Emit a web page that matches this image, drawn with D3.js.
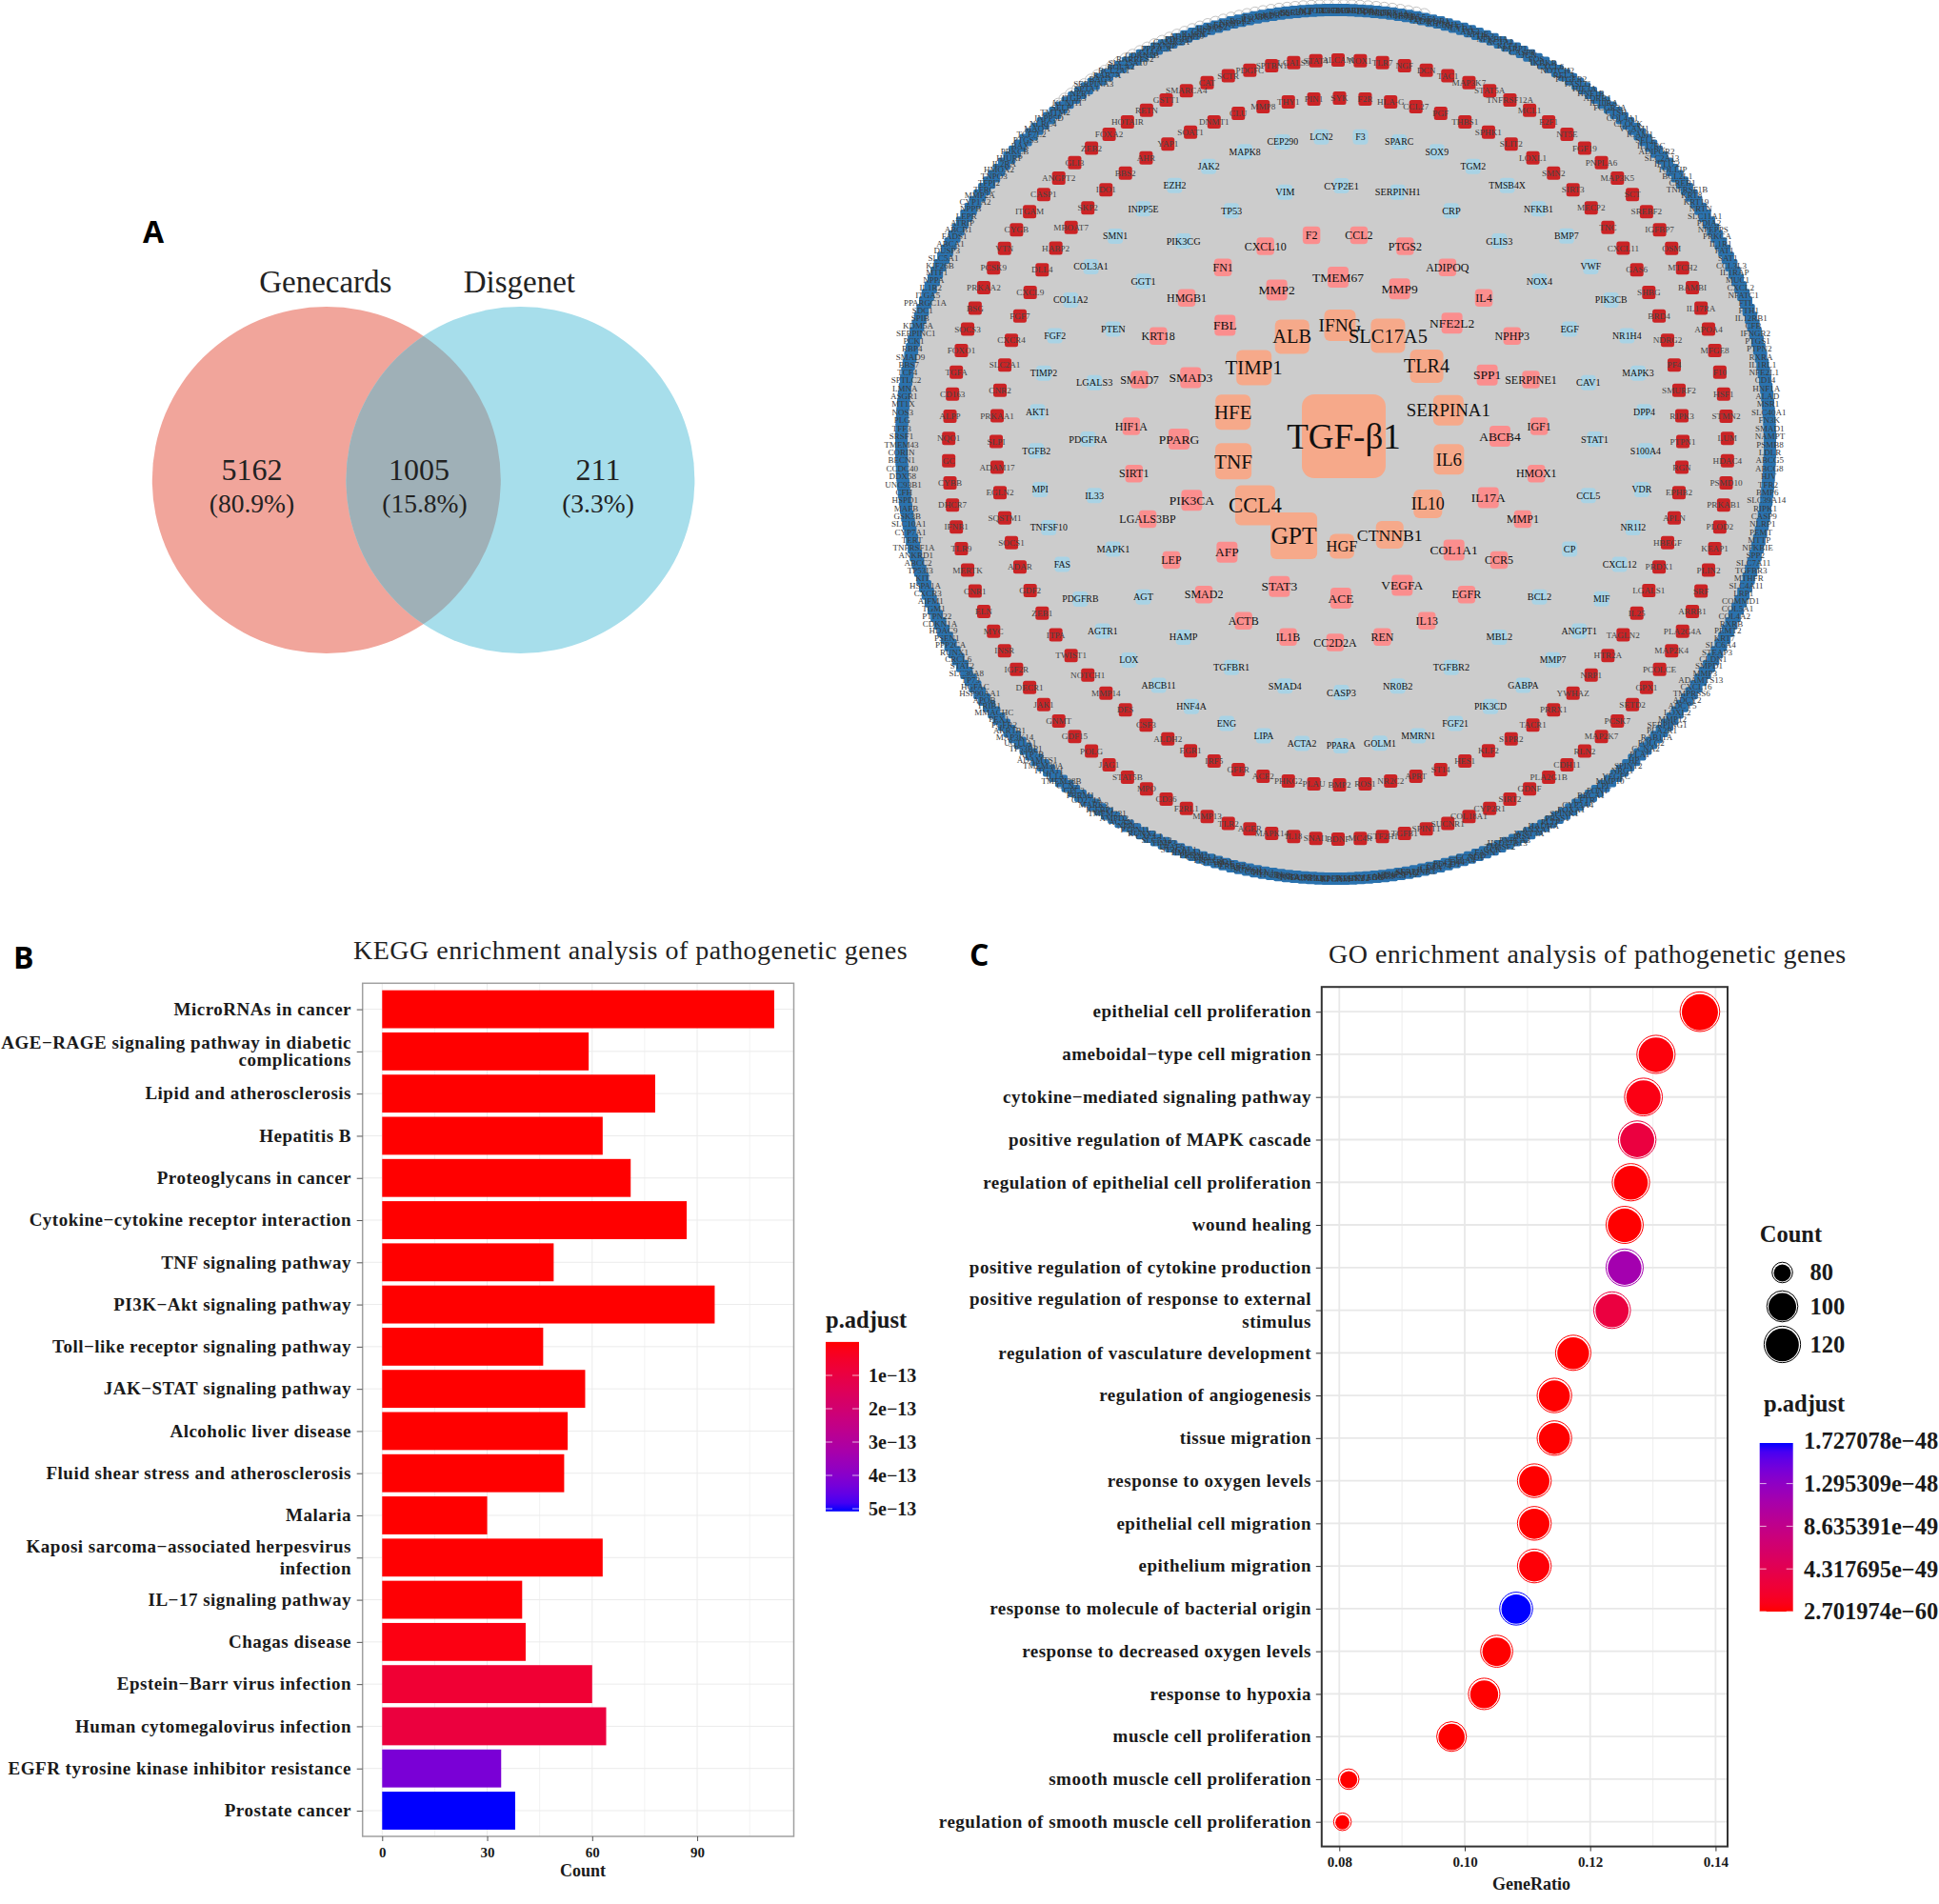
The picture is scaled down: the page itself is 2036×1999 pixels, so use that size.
<!DOCTYPE html>
<html>
<head>
<meta charset="utf-8">
<style>
	body {margin: 0; background: #fff;}
	text {font-family: "Liberation Serif", serif;}
</style>
<script src="https://cdn.jsdelivr.net/npm/d3@7"></script>
</head>
<body>
<script>
// panel A
var vennSets = ["Genecards", "Disgenet"];
var vennCounts = ["5162", "1005", "211"];
var vennPercents = ["(80.9%)", "(15.8%)", "(3.3%)"];

// network rings, clockwise from the top
var hubGene = "TGF-β1";
var orangeGenes = ["IFNG", "SLC17A5", "TLR4", "SERPINA1", "IL6", "IL10", "CTNNB1", "HGF", "GPT", "CCL4", "TNF", "HFE", "TIMP1", "ALB"];
var orangeDegree = [33, 36, 35, 32, 32, 30, 29, 26, 49, 42, 38, 37, 37, 36];
var pinkInnerGenes = ["TMEM67", "MMP9", "NFE2L2", "SPP1", "ABCB4", "IL17A", "COL1A1", "VEGFA", "ACE", "STAT3", "AFP", "PIK3CA", "PPARG", "SMAD3", "FBL", "MMP2"];
var pinkOuterGenes = ["CCL2", "PTGS2", "ADIPOQ", "IL4", "NPHP3", "SERPINE1", "IGF1", "HMOX1", "MMP1", "CCR5", "EGFR", "IL13", "REN", "CC2D2A", "IL1B", "ACTB", "SMAD2", "LEP", "LGALS3BP", "SIRT1", "HIF1A", "SMAD7", "KRT18", "HMGB1", "FN1", "CXCL10", "F2"];
var blueInnerGenes = ["CYP2E1", "SERPINH1", "CRP", "GLIS3", "NOX4", "EGF", "CAV1", "STAT1", "CCL5", "CP", "BCL2", "MBL2", "TGFBR2", "NR0B2", "CASP3", "SMAD4", "TGFBR1", "HAMP", "AGT", "MAPK1", "IL33", "PDGFRA", "LGALS3", "PTEN", "GGT1", "PIK3CG", "TP53", "VIM"];
var blueOuterGenes = ["F3", "SPARC", "SOX9", "TGM2", "TMSB4X", "NFKB1", "BMP7", "VWF", "PIK3CB", "NR1H4", "MAPK3", "DPP4", "S100A4", "VDR", "NR1I2", "CXCL12", "MIF", "ANGPT1", "MMP7", "GABPA", "PIK3CD", "FGF21", "MMRN1", "GOLM1", "PPARA", "ACTA2", "LIPA", "ENG", "HNF4A", "ABCB11", "LOX", "AGTR1", "PDGFRB", "FAS", "TNFSF10", "MPI", "TGFB2", "AKT1", "TIMP2", "FGF2", "COL1A2", "COL3A1", "SMN1", "INPP5E", "EZH2", "JAK2", "MAPK8", "CEP290", "LCN2"];
var redInnerGenes = ["SYK", "F2R", "HLA-G", "CCL27", "PGF", "THBS1", "SPHK1", "SLIT2", "LOXL1", "SMN2", "SIRT3", "MECP2", "TNC", "CXCL11", "GAS6", "SHBG", "BRD4", "NDRG2", "PF4", "SMURF2", "RIPK3", "PTPN1", "RGN", "EPHB2", "APLN", "HBEGF", "PRDX1", "LGALS1", "IL25", "TAGLN2", "HTR2A", "NRP1", "YWHAZ", "PRRX1", "TACR1", "S1PR2", "KLF2", "HES1", "ST14", "APRT", "NR2C2", "ROS1", "BMP2", "PLAU", "PHKG2", "ACE2", "GFER", "IRF5", "EGR1", "ALDH2", "CSF3", "DES", "MMP14", "NOTCH1", "TWIST1", "ITPA", "ZEB1", "GDF2", "ADAR", "SOCS1", "SQSTM1", "EGLN2", "ADAM17", "SLPI", "PRKAA1", "CNR2", "SLC2A1", "CXCR4", "FGF7", "CXCL9", "DLL4", "HABP2", "MBOAT7", "SKP2", "IDO1", "BBS2", "AHR", "YAP1", "SOAT1", "DNMT1", "CLU", "MMP8", "THY1", "PIN1"];
var redOuterGenes = ["ALCAM", "NOX1", "TLR7", "NGF", "DCN", "TAC1", "MAP3K7", "STAT5A", "TNFRSF12A", "MCL1", "E2F1", "NT5E", "FGF19", "PNPLA6", "MAP3K5", "SCT", "SREBF2", "IGFBP7", "OSM", "MTCH2", "BAMBI", "IL17RA", "APOA4", "MFGE8", "F10", "HSF1", "STMN2", "LUM", "HDAC4", "PSMD10", "PRKAB1", "PLOD2", "KEAP1", "PLIN2", "SRF", "ARRB1", "PLA2G4A", "MAP2K4", "PCOLCE", "GPX1", "SETD2", "PCSK7", "MAP2K7", "RLN2", "CDH11", "PLA2G1B", "GDNF", "SIRT2", "CYP2R1", "COL18A1", "SUCNR1", "SPINT1", "TGFB1", "GTF2H1", "MC4R", "BDNF", "SNAI1", "IL18", "MAPK14", "AGER", "TLR2", "MMP13", "F2RL1", "CD36", "MPO", "STAT5B", "JAG1", "POLG", "GDF15", "GNMT", "JAK1", "DECR1", "IGF2R", "INSR", "MYC", "ELN", "CNR1", "MERTK", "TLR9", "IFNB1", "DHCR7", "CYBB", "GC", "NQO1", "ALPP", "CD163", "TGFA", "FOXO1", "SOCS3", "BSG", "PRKAA2", "PCSK9", "VTN", "CYGB", "ITGAM", "CASP1", "ANGPT2", "GLI3", "ZEB2", "FOXA2", "HOTAIR", "RETN", "GSTT1", "SMARCA4", "CAT", "SCTR", "PDGFC", "SPTBN1", "LGALS9", "STAT4"];
var rimGenes = ["IGFBP3", "BAG1", "IGFBP2", "WDR36", "DDR1", "PINK1", "TGFB3", "CDKN2A", "NLRP3", "HSPB1",
	"ATG5", "PDGFA", "ADIPOR1", "RHOA", "CDH1", "NCF1", "CYBA", "ATF3", "APOE", "TP63",
	"NFKBIA", "ACTA1", "KLF4", "PARP1", "CASP8", "JUN", "FOS", "IKBKB", "CXCL6", "NOTCH2",
	"RELA", "PTGER2", "FASLG", "HIF3A", "HNF1B", "ADRB1", "IL10RA", "FCGR3A", "CTSB", "COL4A1",
	"CLOCK", "VCAM1", "ICAM1", "SELE", "IL17RC", "ADIPOR2", "SLC2A13", "IFT172", "TOLLIP", "BCL2L1",
	"CREB1", "TNFRSF1B", "KRT8", "KRT19", "NRTN", "SLC11A1", "PDIA2", "NPEPPS", "PRKCA", "IL1R1",
	"FAT1", "SAT1", "CCL3L3", "IL1RAP", "MUC1", "CXCL2", "NFATC1", "FTL", "FTH1", "IL12RB1",
	"CFB", "IFNGR2", "PTGS1", "PTPN2", "RXRA", "IL1RL1", "NFE2L1", "CD14", "HNF1A", "ALAD",
	"MSR1", "SLC40A1", "FN3K", "SMAD1", "NAMPT", "PSMB8", "LDLR", "ABCG5", "ABCG8", "HJV",
	"TFR2", "BMP6", "SLC39A14", "RIPK1", "CASP9", "NLRP1", "PEMT", "MTTP", "NFKBIE", "SPP2",
	"SLC7A11", "TGFBR3", "MTHFR", "SLC4A11", "LRP1", "COMMD1", "COL5A1", "COL4A2", "RXRB", "PEMT2",
	"KRT7", "SLC6A4", "STEAP3", "CLDN1", "SMPD1", "MMP3", "ADAMTS13", "CXCL16", "TMPRSS6", "ADCY2",
	"ADCY5", "LOXL2", "MMP12", "SERPING1", "PLA2R1", "RAB11A", "POLG2", "CCNA2", "PLAT", "HP",
	"SPINT2", "NRG1", "VEGFC", "MMP10", "LPL", "PON1", "BRCA1", "CFTR", "CYP3A4", "FOXA1",
	"SPINK1", "PRSS1", "PLTP", "HADHA", "ANXA1", "WNT3A", "IRS1", "PNPLA3", "HSD17B13", "TM6SF2",
	"GCK", "FASN", "SCD", "CCND1", "CTLA4", "CD44", "PDCD1", "CD274", "CD8A", "IL2",
	"SERPINB3", "SNAI2", "TNFSF13", "HDAC3", "AMBP", "FGG", "SMAD6", "TET2", "SPHK2", "FGA",
	"EPCAM", "ANPEP", "PTK2", "CXCL8", "DUSP1", "TNFAIP3", "CCR2", "CD68", "ITGB1", "HEY1",
	"CDK1", "SUMO1", "ATF4", "ERBB2", "HPSE", "STARD1", "PPP1CA", "CX3CL1", "PRDM1", "HMGA1",
	"ST3GAL1", "TRAF6", "TIMP3", "SLC5A2", "CXCL1", "RUNX2", "PTPN11", "NPPC", "ACAN", "AMPD2",
	"TMEM231", "IGFBP1", "MARK3", "CD274A", "PBRM1", "GPC3", "CCN2", "TMEM38B", "IL1A", "ITGA11",
	"TMEM30A", "ADAMTS1", "ATP7B", "TP53BP1", "UGT1A1", "MAP3K14", "AKR1B1", "FGFR2", "PEX1", "MMACHC",
	"TRIB1", "APOB", "HSP90AA1", "HGFAC", "TP73", "SLC30A8", "STAT2", "CRCL6", "RUNX1", "PPP2CA",
	"PSEN1", "HDAC9", "CDKN1A", "PTPN22", "TGM1", "AIFM1", "CXCR3", "HSPA1A", "KIT", "TP53I3",
	"ABCC2", "ANKRD1", "TNFRSF1A", "TERT", "CYP7A1", "SLC10A1", "GSK3B", "MAFB", "HSPD1", "CFH",
	"UNC93B1", "DDX58", "CCDC40", "BECN1", "CORIN", "TMEM43", "SRSF1", "TFF3", "PLG", "NOS3",
	"MT1X", "ASGR1", "LMNA", "SPTLC2", "TCF4", "BBS7", "SMAD9", "RBP4", "PCK1", "SERPINC1",
	"KDM5A", "SPIB", "SDC1", "PPARGC1A", "ITGA5", "IL1R2", "NPPA", "MTF1", "KIF26B", "SLC5A1",
	"DUSP3", "ABCA1", "FADS1", "ABCB1", "ATRIP", "LEPR", "NPPB", "CYP1A2", "MMP2A", "TFRC",
	"TFPI2", "TNPO3", "HMOX2", "IL2RA", "HJURP", "PRKCB", "BAX", "PTGS3", "TCF7L2", "MAOA",
	"NLRC4", "INPP5D", "TMTM2", "SELP", "KCNJ11", "ITGB3", "NPR1", "SPTA1", "SERPINA3", "BAG3",
	"RAB7A", "BCL2A1", "BOLA2", "SLC25A10", "RARRES2", "CDKN1B", "GJA1", "PPP3CA", "TXNIP", "CAMK2A",
	"PDGFD", "ADAM10", "IL1RN", "CSF2", "HSPA5", "NOS2", "EDN1", "NPHP1", "RGS2", "ILK",
	"FOXP3", "IRF3", "KDR", "SOD2", "GSR", "SLC2A4", "HK2", "MTOR", "PTX3", "CDK2"];

// panel B
var keggTerms = ["MicroRNAs in cancer", "AGE−RAGE signaling pathway in diabetic\ncomplications", "Lipid and atherosclerosis", "Hepatitis B", "Proteoglycans in cancer", "Cytokine−cytokine receptor interaction", "TNF signaling pathway", "PI3K−Akt signaling pathway", "Toll−like receptor signaling pathway", "JAK−STAT signaling pathway", "Alcoholic liver disease", "Fluid shear stress and atherosclerosis", "Malaria", "Kaposi sarcoma−associated herpesvirus\ninfection", "IL−17 signaling pathway", "Chagas disease", "Epstein−Barr virus infection", "Human cytomegalovirus infection", "EGFR tyrosine kinase inhibitor resistance", "Prostate cancer"];
var keggCounts = [112, 59, 78, 63, 71, 87, 49, 95, 46, 58, 53, 52, 30, 63, 40, 41, 60, 64, 34, 38];
var keggPadjust = [1e-16, 1e-16, 1e-16, 1e-16, 1e-16, 1e-16, 1e-16, 1e-16, 1e-16, 1e-16, 1e-16, 1e-16, 1e-16, 2e-15, 3e-15, 1.5e-14, 7e-14, 9e-14, 4.2e-13, 5.05e-13];
var keggTicks = [0, 30, 60, 90];
var keggMinorTicks = [15, 45, 75, 105];
var keggLegend = [1e-13, 2e-13, 3e-13, 4e-13, 5e-13];
var keggLegendLabels = ["1e−13", "2e−13", "3e−13", "4e−13", "5e−13"];

// panel C
var goTerms = ["epithelial cell proliferation", "ameboidal−type cell migration", "cytokine−mediated signaling pathway", "positive regulation of MAPK cascade", "regulation of epithelial cell proliferation", "wound healing", "positive regulation of cytokine production", "positive regulation of response to external\nstimulus", "regulation of vasculature development", "regulation of angiogenesis", "tissue migration", "response to oxygen levels", "epithelial cell migration", "epithelium migration", "response to molecule of bacterial origin", "response to decreased oxygen levels", "response to hypoxia", "muscle cell proliferation", "smooth muscle cell proliferation", "regulation of smooth muscle cell proliferation"];
var goRatio = [0.1375, 0.1305, 0.1285, 0.1275, 0.1265, 0.1255, 0.1255, 0.1235, 0.1173, 0.1143, 0.1143, 0.1111, 0.1111, 0.1111, 0.1082, 0.1051, 0.1031, 0.0979, 0.0815, 0.0805];
var goCounts = [135, 128, 126, 125, 124, 123, 123, 121, 115, 112, 112, 109, 109, 109, 106, 103, 101, 96, 80, 79];
var goPadjust = [3e-60, 3e-50, 6e-50, 3.2e-49, 1e-50, 3e-60, 1.15e-48, 3.2e-49, 3e-60, 3e-60, 3e-60, 3e-60, 3e-60, 2e-50, 1.727078e-48, 3e-60, 3e-60, 3e-60, 3e-60, 3e-60];
var goTicks = [0.08, 0.10, 0.12, 0.14];
var goMinorTicks = [0.09, 0.11, 0.13];
var countLegend = [80, 100, 120];
var goLegend = [1.727078e-48, 1.295309e-48, 8.635391e-49, 4.317695e-49, 2.701974e-60];
var goLegendLabels = ["1.727078e−48", "1.295309e−48", "8.635391e−49", "4.317695e−49", "2.701974e−60"];

var svg = d3.select("body").append("svg")
	.attr("width", 2036)
	.attr("height", 1999);
var defs = svg.append("defs");

function panelLetter(txt, x, y){
	svg.append("text")
		.attr("x", x)
		.attr("y", y)
		.style("font-family", "'Open Sans', sans-serif")
		.style("font-weight", 700)
		.style("font-size", "32px")
		.text(txt);
}

// ---------- A: venn ----------
panelLetter("A", 150, 255);
var vennX = d3.scalePoint().domain(vennSets).range([342.8, 546.4]);
var vennY = 504, vennRx = 183, vennRy = 182;
svg.selectAll("ellipse.venn")
	.data(vennSets)
	.enter()
	.append("ellipse")
	.attr("class", "venn")
	.attr("cx", function(d){return vennX(d);})
	.attr("cy", vennY)
	.attr("rx", vennRx)
	.attr("ry", vennRy)
	.attr("fill", function(d, i){return i === 0 ? "#f1a59b" : "#a7deeb";});
defs.append("clipPath").attr("id", "vennclip")
	.append("ellipse")
	.attr("cx", vennX(vennSets[0]))
	.attr("cy", vennY)
	.attr("rx", vennRx)
	.attr("ry", vennRy);
svg.append("ellipse")
	.attr("clip-path", "url(#vennclip)")
	.attr("cx", vennX(vennSets[1]))
	.attr("cy", vennY)
	.attr("rx", vennRx)
	.attr("ry", vennRy)
	.attr("fill", "#9fb0b7");
svg.selectAll("text.vennname")
	.data(vennSets)
	.enter()
	.append("text")
	.attr("class", "vennname")
	.attr("x", function(d){return vennX(d) - 1;})
	.attr("y", 306.5)
	.attr("text-anchor", "middle")
	.style("font-size", "33px")
	.attr("fill", "#222")
	.text(function(d){return d;});
var vennTextX = [264.5, 440, 628];
svg.selectAll("text.venncount")
	.data(vennCounts)
	.enter()
	.append("text")
	.attr("class", "venncount")
	.attr("x", function(d, i){return vennTextX[i];})
	.attr("y", 504)
	.attr("text-anchor", "middle")
	.style("font-size", "32px")
	.attr("fill", "#222")
	.text(function(d){return d;});
svg.selectAll("text.vennpct")
	.data(vennPercents)
	.enter()
	.append("text")
	.attr("class", "vennpct")
	.attr("x", function(d, i){return vennTextX[i] + (i === 1 ? 6 : 0);})
	.attr("y", 538)
	.attr("text-anchor", "middle")
	.style("font-size", "27.5px")
	.attr("fill", "#222")
	.text(function(d){return d;});

// ---------- network ----------
var net = svg.append("g");
net.append("circle")
	.attr("cx", 1402.5)
	.attr("cy", 466.5)
	.attr("r", 452)
	.attr("fill", "#cccccc");

function ring(genes, opt){
	var angle = d3.scaleLinear().domain([0, genes.length]).range([opt.start, opt.start + 2 * Math.PI]);
	return genes.map(function(g, i){
		var p = d3.pointRadial(angle(i), opt.r);
		return {
			gene: g,
			a: angle(i),
			x: opt.cx + p[0],
			y: opt.cy + p[1],
			size: opt.size,
			font: opt.font,
			color: opt.color,
			rx: opt.rx,
			ink: opt.ink
		};
	});
}
function deg(d){return d * Math.PI / 180;}

var rimNodes = ring(rimGenes, {cx: 1402.5, cy: 466.5, r: 456, start: 0, size: 13, font: 9, color: "#2a72ae", rx: 2, ink: "#3a3a3a"});

// self loops only show past the disc on the upper left
net.selectAll("circle.loop")
	.data(rimNodes.filter(function(d){
		var a = d.a > Math.PI ? d.a - 2 * Math.PI : d.a;
		return a > deg(-40) && a < deg(12);
	}))
	.enter()
	.append("circle")
	.attr("class", "loop")
	.attr("cx", function(d){return 1402.5 + 461 * Math.sin(d.a);})
	.attr("cy", function(d){return 466.5 - 461 * Math.cos(d.a);})
	.attr("r", 6)
	.attr("fill", "none")
	.attr("stroke", "#c4c4c4")
	.attr("stroke-width", 1);

var orangeFont = d3.scaleLinear().domain([26, 49]).range([16.5, 25.6]);
var orangeNodes = ring(orangeGenes, {cx: 1408, cy: 457.5, r: 116, start: deg(-0.5), color: "#f6a98a", rx: 6, ink: "#111"});
orangeNodes.forEach(function(d, i){
	d.size = orangeDegree[i];
	d.font = orangeFont(orangeDegree[i]);
});

var allNodes = [].concat(
	rimNodes,
	ring(redOuterGenes, {cx: 1405, cy: 472, r: 409, start: 0, size: 14, font: 9.2, color: "#cb2325", rx: 2.5, ink: "#444"}),
	ring(redInnerGenes, {cx: 1406.5, cy: 463.5, r: 360.5, start: 0, size: 14, font: 9.2, color: "#cb2325", rx: 2.5, ink: "#444"}),
	ring(blueOuterGenes, {cx: 1408, cy: 463, r: 320, start: deg(3.67), size: 16, font: 9.8, color: "#a9d3e5", rx: 4, ink: "#111"}),
	ring(blueInnerGenes, {cx: 1408.5, cy: 461, r: 266, start: 0, size: 16, font: 10.3, color: "#a9d3e5", rx: 4, ink: "#111"}),
	ring(pinkOuterGenes, {cx: 1402, cy: 460, r: 214.5, start: deg(6.67), size: 18.5, font: 12, color: "#fb8e8e", rx: 4, ink: "#111"}),
	ring(pinkInnerGenes, {cx: 1406.5, cy: 459.5, r: 168.5, start: deg(-0.5), size: 22, font: 13.5, color: "#fb8e8e", rx: 4, ink: "#111"}),
	orangeNodes,
	[{gene: hubGene, x: 1411, y: 458, size: 88, font: 37, color: "#f6a98a", rx: 13, ink: "#111"}]
);
net.selectAll("rect.node")
	.data(allNodes)
	.enter()
	.append("rect")
	.attr("class", "node")
	.attr("x", function(d){return d.x - d.size / 2;})
	.attr("y", function(d){return d.y - d.size / 2;})
	.attr("width", function(d){return d.size;})
	.attr("height", function(d){return d.size;})
	.attr("rx", function(d){return d.rx;})
	.attr("fill", function(d){return d.color;});
net.selectAll("text.node")
	.data(allNodes)
	.enter()
	.append("text")
	.attr("class", "node")
	.attr("x", function(d){return d.x;})
	.attr("y", function(d){return d.y;})
	.attr("dy", "0.34em")
	.attr("text-anchor", "middle")
	.style("font-size", function(d){return d.font + "px";})
	.attr("fill", function(d){return d.ink;})
	.text(function(d){return d.gene;});

// ---------- shared helpers for B and C ----------
function termLabels(terms, y, x, fontSize, gap){
	var labels = svg.append("g").selectAll("text")
		.data(terms)
		.enter()
		.append("text")
		.attr("text-anchor", "end")
		.style("font-size", fontSize + "px")
		.style("font-weight", 700)
		.style("letter-spacing", "0.5px")
		.attr("fill", "#1a1a1a");
	labels.each(function(d){
		var lines = d.split("\n");
		var lineGap = typeof gap === "function" ? gap(d) : gap;
		var top = y(d) - (lines.length - 1) * lineGap / 2;
		d3.select(this).selectAll("tspan")
			.data(lines)
			.enter()
			.append("tspan")
			.attr("x", x)
			.attr("y", function(l, i){return top + i * lineGap;})
			.attr("dy", "0.33em")
			.text(function(l){return l;});
	});
}
function colorBar(id, color, domain, x, y, w, h, ticksY, ticks, labels, labelX, fontSize){
	var grad = defs.append("linearGradient").attr("id", id)
		.attr("x1", 0).attr("x2", 0).attr("y1", 0).attr("y2", 1);
	var stopScale = d3.scaleLinear().domain([0, 1]).range(domain);
	grad.selectAll("stop")
		.data(d3.range(0, 1.01, 0.05))
		.enter()
		.append("stop")
		.attr("offset", function(d){return d;})
		.attr("stop-color", function(d){return color(stopScale(d));});
	svg.append("rect")
		.attr("x", x).attr("y", y).attr("width", w).attr("height", h)
		.attr("fill", "url(#" + id + ")");
	ticks.forEach(function(t, i){
		svg.append("line").attr("x1", x).attr("x2", x + 7).attr("y1", ticksY(t)).attr("y2", ticksY(t))
			.attr("stroke", "#fff").attr("stroke-opacity", 0.7);
		svg.append("line").attr("x1", x + w - 7).attr("x2", x + w).attr("y1", ticksY(t)).attr("y2", ticksY(t))
			.attr("stroke", "#fff").attr("stroke-opacity", 0.7);
		svg.append("text")
			.attr("x", labelX)
			.attr("y", ticksY(t))
			.attr("dy", "0.34em")
			.style("font-size", fontSize + "px")
			.style("font-weight", 700)
			.attr("fill", "#1a1a1a")
			.text(labels[i]);
	});
}
function panelTitle(txt, x, y){
	svg.append("text")
		.attr("x", x)
		.attr("y", y)
		.style("font-size", "28px")
		.style("letter-spacing", "0.5px")
		.attr("fill", "#222")
		.text(txt);
}
function boldText(txt, x, y, size, anchor){
	svg.append("text")
		.attr("x", x).attr("y", y)
		.attr("text-anchor", anchor || "start")
		.style("font-size", size + "px").style("font-weight", 700)
		.attr("fill", "#1a1a1a")
		.text(txt);
}

// ---------- B: KEGG bars ----------
panelLetter("B", 14, 1017);
panelTitle("KEGG enrichment analysis of pathogenetic genes", 371, 1007);

var bLeft = 380.7, bRight = 833.5, bTop = 1032.3, bBottom = 1928;
var keggX = d3.scaleLinear().domain([-5.6, 117.6]).range([bLeft, bRight]);
var keggY = d3.scalePoint().domain(keggTerms).range([1059.6, 1901]);
var keggBand = d3.scaleBand().domain(keggTerms).range([1059.6 - 22.14, 1901 + 22.14]).paddingInner(0.1).paddingOuter(0.05);
var keggColor = d3.scaleLinear().domain([0, 5.05e-13]).range(["#ff0000", "#0000ff"]).interpolate(d3.interpolateLab);

var bg = svg.append("g");
bg.selectAll("line.minor")
	.data(keggMinorTicks)
	.enter()
	.append("line")
	.attr("class", "minor")
	.attr("x1", function(d){return keggX(d);})
	.attr("x2", function(d){return keggX(d);})
	.attr("y1", bTop).attr("y2", bBottom)
	.attr("stroke", "#f2f2f2");
bg.selectAll("line.major")
	.data(keggTicks)
	.enter()
	.append("line")
	.attr("class", "major")
	.attr("x1", function(d){return keggX(d);})
	.attr("x2", function(d){return keggX(d);})
	.attr("y1", bTop).attr("y2", bBottom)
	.attr("stroke", "#ebebeb");
bg.selectAll("line.row")
	.data(keggTerms)
	.enter()
	.append("line")
	.attr("class", "row")
	.attr("x1", bLeft).attr("x2", bRight)
	.attr("y1", keggY).attr("y2", keggY)
	.attr("stroke", "#ebebeb");
bg.selectAll("rect.bar")
	.data(keggTerms)
	.enter()
	.append("rect")
	.attr("class", "bar")
	.attr("x", keggX(0))
	.attr("y", function(d){return keggBand(d);})
	.attr("width", function(d, i){return keggX(keggCounts[i]) - keggX(0);})
	.attr("height", keggBand.bandwidth())
	.attr("fill", function(d, i){return keggColor(keggPadjust[i]);});
bg.append("rect")
	.attr("x", bLeft).attr("y", bTop)
	.attr("width", bRight - bLeft).attr("height", bBottom - bTop)
	.attr("fill", "none").attr("stroke", "#a0a0a0").attr("stroke-width", 1.5);

var bAxisY = svg.append("g")
	.attr("transform", "translate(" + bLeft + ",0)")
	.call(d3.axisLeft(keggY).tickSize(6).tickFormat(""));
bAxisY.select(".domain").remove();
bAxisY.selectAll("line").attr("stroke", "#555");
termLabels(keggTerms, keggY, 369, 19, function(d){return d.indexOf("AGE") === 0 ? 18 : 23.5;});

var bAxisX = svg.append("g")
	.attr("transform", "translate(0," + bBottom + ")")
	.call(d3.axisBottom(keggX).tickValues(keggTicks).tickSize(5).tickFormat(d3.format("d")));
bAxisX.select(".domain").remove();
bAxisX.selectAll("line").attr("stroke", "#555");
bAxisX.selectAll("text")
	.attr("y", 11)
	.style("font-size", "15px")
	.style("font-weight", 700)
	.style("font-family", "'Liberation Serif', serif")
	.attr("fill", "#1a1a1a");
boldText("Count", 612, 1969.5, 18, "middle");

boldText("p.adjust", 867, 1394, 24.5);
colorBar("keggbar", keggColor, [0, 5.05e-13], 867, 1408.9, 35, 177.9,
	d3.scaleLinear().domain([1e-13, 5e-13]).range([1444, 1584]), keggLegend, keggLegendLabels, 912, 20);

// ---------- C: GO dots ----------
panelLetter("C", 1018, 1014);
panelTitle("GO enrichment analysis of pathogenetic genes", 1395, 1011);

var cLeft = 1387.8, cRight = 1814, cTop = 1036.2, cBottom = 1938.6;
var goX = d3.scaleLinear().domain([0.08, 0.14]).range([1406.3, 1801.4]);
var goY = d3.scalePoint().domain(goTerms).range([1062.2, 1912.7]);
var goColor = d3.scaleLinear().domain([2.701974e-60, 1.727078e-48]).range(["#ff0000", "#0000ff"]).interpolate(d3.interpolateLab);
var countArea = d3.scaleLinear().domain([79, 135]).range([0, 1]);
var countRadius = d3.scaleLinear().domain([0, 1]).range([9.25, 20.8]);
function radius(c){return countRadius(Math.sqrt(countArea(c)));}

var cg = svg.append("g");
cg.selectAll("line.vgrid")
	.data(goTicks.concat(goMinorTicks))
	.enter()
	.append("line")
	.attr("class", "vgrid")
	.attr("x1", function(d){return goX(d);})
	.attr("x2", function(d){return goX(d);})
	.attr("y1", cTop).attr("y2", cBottom)
	.attr("stroke", function(d){return goTicks.indexOf(d) >= 0 ? "#e8e8e8" : "#f0f0f0";})
	.attr("stroke-width", function(d){return goTicks.indexOf(d) >= 0 ? 1.8 : 1.2;});
cg.selectAll("line.hgrid")
	.data(goTerms)
	.enter()
	.append("line")
	.attr("class", "hgrid")
	.attr("x1", cLeft).attr("x2", cRight)
	.attr("y1", goY).attr("y2", goY)
	.attr("stroke", "#e8e8e8").attr("stroke-width", 1.8);
// every dot has a thin halo round it in the figure
cg.selectAll("circle.halo")
	.data(goTerms)
	.enter()
	.append("circle")
	.attr("class", "halo")
	.attr("cx", function(d, i){return goX(goRatio[i]);})
	.attr("cy", goY)
	.attr("r", function(d, i){return radius(goCounts[i]);})
	.attr("fill", "#fff")
	.attr("stroke", function(d, i){return goColor(goPadjust[i]);})
	.attr("stroke-width", 1);
cg.selectAll("circle.dot")
	.data(goTerms)
	.enter()
	.append("circle")
	.attr("class", "dot")
	.attr("cx", function(d, i){return goX(goRatio[i]);})
	.attr("cy", function(d){return goY(d) + 0.5;})
	.attr("r", function(d, i){return radius(goCounts[i]) - 1.8;})
	.attr("fill", function(d, i){return goColor(goPadjust[i]);});
cg.append("rect")
	.attr("x", cLeft).attr("y", cTop)
	.attr("width", cRight - cLeft).attr("height", cBottom - cTop)
	.attr("fill", "none").attr("stroke", "#333").attr("stroke-width", 2);

var cAxisY = svg.append("g")
	.attr("transform", "translate(" + cLeft + ",0)")
	.call(d3.axisLeft(goY).tickSize(6).tickFormat(""));
cAxisY.select(".domain").remove();
cAxisY.selectAll("line").attr("stroke", "#333");
termLabels(goTerms, goY, 1377, 19, 23.5);

var cAxisX = svg.append("g")
	.attr("transform", "translate(0," + cBottom + ")")
	.call(d3.axisBottom(goX).tickValues(goTicks).tickSize(5).tickFormat(d3.format(".2f")));
cAxisX.select(".domain").remove();
cAxisX.selectAll("line").attr("stroke", "#333");
cAxisX.selectAll("text")
	.attr("y", 11)
	.style("font-size", "15px")
	.style("font-weight", 700)
	.style("font-family", "'Liberation Serif', serif")
	.attr("fill", "#1a1a1a");
boldText("GeneRatio", 1608, 1984, 18, "middle");

boldText("Count", 1847.7, 1304, 24.5);
var countLegendY = d3.scaleOrdinal().domain(countLegend).range([1336, 1371.5, 1411.5]);
svg.selectAll("circle.keyhalo")
	.data(countLegend)
	.enter()
	.append("circle")
	.attr("class", "keyhalo")
	.attr("cx", 1871.5)
	.attr("cy", function(d){return countLegendY(d);})
	.attr("r", radius)
	.attr("fill", "#fff")
	.attr("stroke", "#000")
	.attr("stroke-width", 1);
svg.selectAll("circle.key")
	.data(countLegend)
	.enter()
	.append("circle")
	.attr("class", "key")
	.attr("cx", 1871.5)
	.attr("cy", function(d){return countLegendY(d) + 0.5;})
	.attr("r", function(d){return radius(d) - 1.8;})
	.attr("fill", "#000");
svg.selectAll("text.key")
	.data(countLegend)
	.enter()
	.append("text")
	.attr("class", "key")
	.attr("x", 1900.6)
	.attr("y", function(d){return countLegendY(d);})
	.attr("dy", "0.34em")
	.style("font-size", "24.5px").style("font-weight", 700)
	.attr("fill", "#1a1a1a")
	.text(function(d){return d;});

boldText("p.adjust", 1852, 1482, 24.5);
colorBar("gobar", goColor, [1.727078e-48, 2.701974e-60], 1847.7, 1515, 35, 177,
	d3.scaleLinear().domain([2.701974e-60, 1.727078e-48]).range([1692, 1512.8]), goLegend, goLegendLabels, 1894, 24.5);
</script>
</body>
</html>
